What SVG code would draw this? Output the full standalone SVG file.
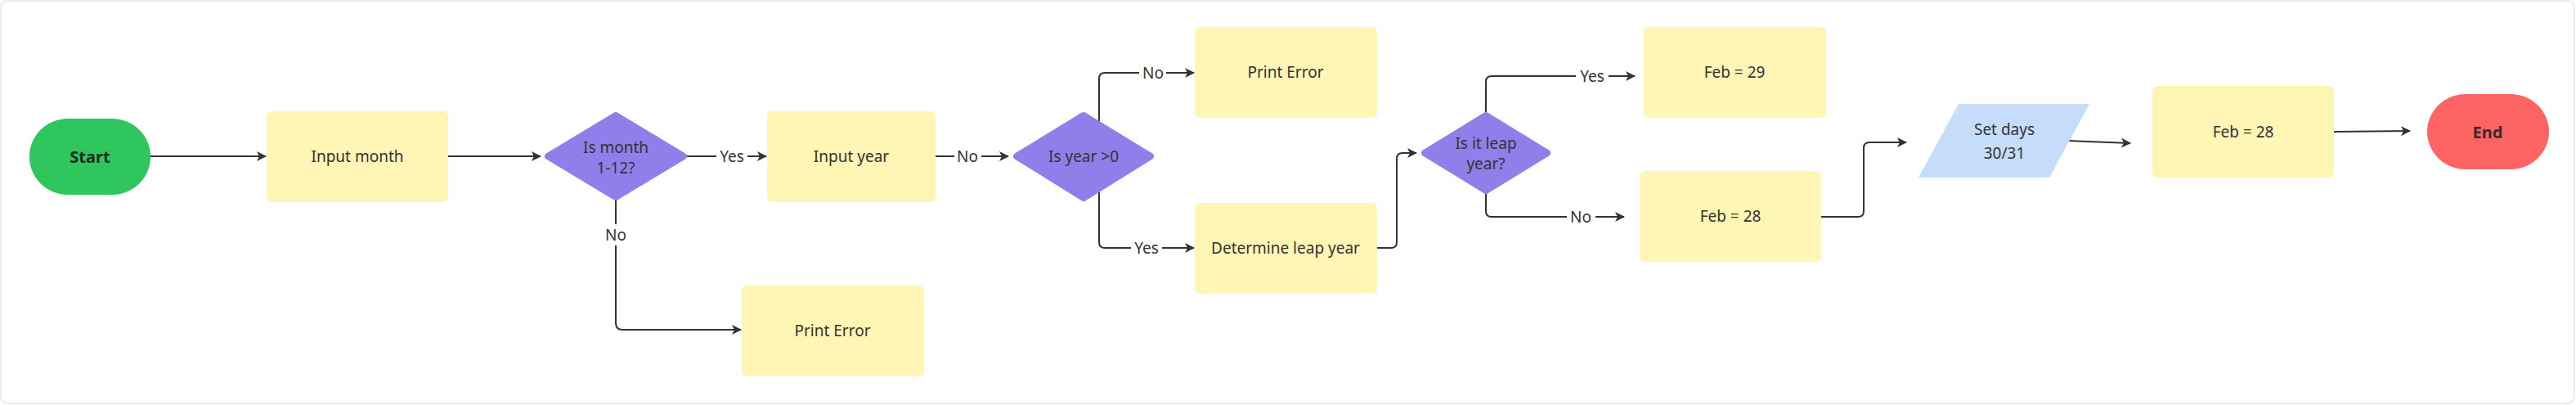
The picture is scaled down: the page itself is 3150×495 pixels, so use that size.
<svg xmlns="http://www.w3.org/2000/svg" width="3150" height="495" viewBox="0 0 3150 495">
<style>
.t{font-family:"Noto Sans","Open Sans",sans-serif;font-size:19px;fill:#333333;text-anchor:middle;dominant-baseline:central}
.b{font-weight:bold;font-size:20px}
.box{fill:#FFF5B5}
.dia{fill:#8E7FEB;stroke:#8E7FEB;stroke-width:8;stroke-linejoin:round}
.c{fill:none;stroke:#333333;stroke-width:2}
.bg{fill:#ffffff}
</style>
<defs>
<marker id="ah" viewBox="0 0 12 12" refX="11" refY="6" markerWidth="12" markerHeight="12" markerUnits="userSpaceOnUse" orient="auto">
<path d="M0,0 L12,6 L0,12 L3,6 z" fill="#333333"/>
</marker>
</defs>
<rect x="1" y="1" width="3147" height="492" rx="8" fill="#ffffff" stroke="#e6e6e6" stroke-width="1.5"/>

<g id="connectors">
<path class="c" d="M184,191 H325" marker-end="url(#ah)"/>
<path class="c" d="M548,191 H661" marker-end="url(#ah)"/>
<path class="c" d="M840,191 H937" marker-end="url(#ah)"/>
<path class="c" d="M753,245 V395 Q753,403 761,403 H906" marker-end="url(#ah)"/>
<path class="c" d="M1144,191 H1233" marker-end="url(#ah)"/>
<path class="c" d="M1344,148 V96 Q1344,89 1351,89 H1460" marker-end="url(#ah)"/>
<path class="c" d="M1344,235 V296 Q1344,303 1351,303 H1460" marker-end="url(#ah)"/>
<path class="c" d="M1684,303 H1701 Q1708,303 1708,296 V194 Q1708,187 1715,187 H1732" marker-end="url(#ah)"/>
<path class="c" d="M1817,137 V100 Q1817,93 1824,93 H1999" marker-end="url(#ah)"/>
<path class="c" d="M1817,237 V258 Q1817,265 1824,265 H1986" marker-end="url(#ah)"/>
<path class="c" d="M2227,265 H2272 Q2279,265 2279,258 V181 Q2279,174 2286,174 H2331" marker-end="url(#ah)"/>
<path class="c" d="M2530,172 L2605,175" marker-end="url(#ah)"/>
<path class="c" d="M2854,161 L2947,160" marker-end="url(#ah)"/>
<rect class="bg" x="876" y="178" width="38" height="26"/>
<text class="t" x="895" y="191">Yes</text>
<rect class="bg" x="739" y="274" width="28" height="26"/>
<text class="t" x="753" y="287">No</text>
<rect class="bg" x="1167" y="178" width="33" height="26"/>
<text class="t" x="1183" y="191">No</text>
<rect class="bg" x="1393" y="76" width="33" height="26"/>
<text class="t" x="1410" y="89">No</text>
<rect class="bg" x="1383" y="290" width="38" height="26"/>
<text class="t" x="1402" y="303">Yes</text>
<rect class="bg" x="1927" y="80" width="40" height="26"/>
<text class="t" x="1947" y="93">Yes</text>
<rect class="bg" x="1916" y="252" width="35" height="26"/>
<text class="t" x="1933" y="265">No</text>
</g>

<g id="start">
<rect x="36" y="145" width="148" height="93" rx="47" ry="46" fill="#2FC65E"/>
<text class="t b" x="110" y="191" style="fill:#1d2b22">Start</text>
</g>
<g id="input-month">
<rect class="box" x="326" y="136" width="222" height="111" rx="6"/>
<text class="t" x="437" y="191">Input month</text>
</g>
<g id="is-month">
<polygon class="dia" points="670,191 753,141 836,191 753,241"/>
<text class="t" x="753" y="180">Is month</text>
<text class="t" x="753" y="205">1-12?</text>
</g>
<g id="print-error-1">
<rect class="box" x="907" y="349" width="223" height="111" rx="6"/>
<text class="t" x="1018" y="404">Print Error</text>
</g>
<g id="input-year">
<rect class="box" x="938" y="136" width="206" height="111" rx="6"/>
<text class="t" x="1041" y="191">Input year</text>
</g>
<g id="is-year">
<polygon class="dia" points="1243,191 1325,141 1407,191 1325,242"/>
<text class="t" x="1325" y="191">Is year &gt;0</text>
</g>
<g id="print-error-2">
<rect class="box" x="1461" y="33" width="223" height="111" rx="6"/>
<text class="t" x="1572" y="88">Print Error</text>
</g>
<g id="determine-leap">
<rect class="box" x="1461" y="248" width="223" height="111" rx="6"/>
<text class="t" x="1572" y="303">Determine leap year</text>
</g>
<g id="is-leap">
<polygon class="dia" points="1742,187 1817,141 1892,187 1817,233"/>
<text class="t" x="1817" y="175">Is it leap</text>
<text class="t" x="1817" y="200">year?</text>
</g>
<g id="feb-29">
<rect class="box" x="2010" y="33" width="223" height="111" rx="6"/>
<text class="t" x="2121" y="88">Feb = 29</text>
</g>
<g id="feb-28-a">
<rect class="box" x="2005" y="209" width="222" height="111" rx="6"/>
<text class="t" x="2116" y="264">Feb = 28</text>
</g>
<g id="set-days">
<polygon points="2395,127 2555,127 2506,217 2346,217" fill="#C6DCFB"/>
<text class="t" x="2451" y="158">Set days</text>
<text class="t" x="2451" y="187">30/31</text>
</g>
<g id="feb-28-b">
<rect class="box" x="2632" y="105" width="222" height="112" rx="6"/>
<text class="t" x="2743" y="161">Feb = 28</text>
</g>
<g id="end">
<rect x="2968" y="115" width="149" height="92" rx="47" ry="46" fill="#FF6464"/>
<text class="t b" x="3042" y="161" style="fill:#3a2a2a">End</text>
</g>
</svg>
